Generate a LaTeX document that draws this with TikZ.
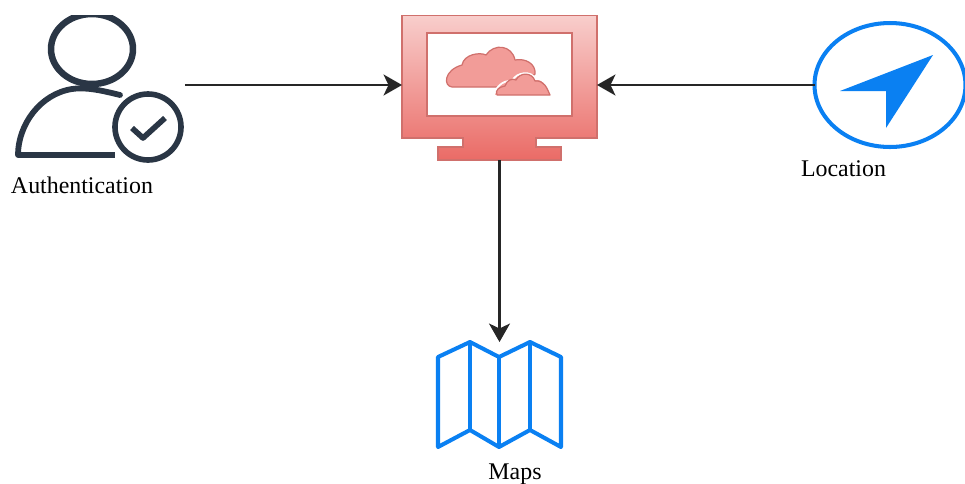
\documentclass[tikz,border=0pt]{standalone}
\usepackage{fontspec}
\setmainfont{Liberation Serif}
\usetikzlibrary{arrows.meta,shapes.geometric}
\definecolor{userdark}{HTML}{2A3645}
\definecolor{iconblue}{HTML}{0A80F2}
\definecolor{monitortop}{HTML}{F8CECC}
\definecolor{monitorbot}{HTML}{EA6B66}
\definecolor{monitorline}{HTML}{D0706C}
\definecolor{cloudfill}{HTML}{F29C98}
\tikzset{
    iconbox/.style={inner sep=0pt,outer sep=0pt},
    flow/.style={draw=black!85,line width=1.3pt,-{Stealth[length=0.37cm,width=0.42cm,inset=0.1cm]}},
    caption/.style={font=\fontsize{13.6}{16}\selectfont,text=black,inner sep=0pt},
    userline/.style={draw=userdark,line join=round},
    mapline/.style={draw=iconblue,line width=2.3pt,line join=round},
    cloudline/.style={fill=cloudfill,draw=monitorline,line width=0.7pt,line join=round}
}
\begin{document}
\begin{tikzpicture}[x=0.02cm,y=-0.02cm]
        \useasboundingbox (0,0) rectangle (965,484);
        \clip (0,15) rectangle (965,484);
        % user
        \node [iconbox,minimum width=3.4cm,minimum height=2.8cm] (user) at (100,85) {};
        \draw [userline,line width=3.7pt] (92,49) ellipse [x radius=41,y radius=35];
        \draw [userline,line width=3.3pt,line cap=round] (120,95) .. controls (100,90) and (85,87) .. (72,89) .. controls (40,94) and (18,125) .. (18,155);
        \draw [userline,line width=3.3pt] (18,155) -- (115,155);
        \draw [userline,line width=3.2pt] (148,127) circle [radius=33];
        \draw [userline,line width=3.2pt] (132,128) -- (143,138) -- (165,118);
        \node [caption] (authlabel) at (82,185) {Authentication};
        % monitor
        \node [iconbox,minimum width=3.9cm,minimum height=2.8cm] (monitor) at (499.5,85) {};
        \shade [top color=monitortop,bottom color=monitorbot,draw=monitorline,line width=0.6pt]
            (402,15) -- (597,15) -- (597,138) -- (536,138) -- (536,147) -- (561,147) -- (561,160)
            -- (438,160) -- (438,147) -- (463,147) -- (463,138) -- (402,138) -- cycle;
        \node [iconbox,fill=white,draw=monitorline,line width=1pt,minimum width=2.9cm,minimum height=1.66cm] (screen) at (499.5,74.5) {};
        \node [iconbox,minimum width=2.46cm,minimum height=0.26cm] (stand) at (499.5,153.5) {};
        \draw [cloudline] (452,87) .. controls (443,86) and (444,70) .. (462,65)
            .. controls (464,54) and (480,52) .. (486,55) .. controls (494,43) and (512,45) .. (515,60)
            .. controls (526,58) and (536,64) .. (535,74) -- (520,87) -- cycle;
        \draw [cloudline,draw=white,line width=1pt] (494,96) .. controls (495,88) and (502,80) .. (512,81)
            .. controls (516,72) and (532,70) .. (535,79) .. controls (545,78) and (549,88) .. (550,96) -- cycle;
        \draw [cloudline] (497,95) .. controls (495,90) and (499,87) .. (505,86)
            .. controls (507,80) and (512,78) .. (516,80) .. controls (520,72) and (532,72) .. (535,81)
            .. controls (544,80) and (547,88) .. (550,95) -- cycle;
        % location
        \node [iconbox,ellipse,draw=iconblue,line width=2.3pt,minimum width=3.02cm,minimum height=2.48cm] (location) at (890,85) {};
        \fill [iconblue] (933,55) -- (840,91) -- (886,91) -- (886,128) -- cycle;
        \node [caption] (loclabel) at (843.5,169) {Location};
        % map
        \node [iconbox,minimum width=2.46cm,minimum height=2.1cm] (map) at (499.5,394.5) {};
        \draw [mapline] (438,357) -- (470,342) -- (499,357) -- (530,342) -- (561,357) -- (561,447)
            -- (530,430) -- (499,447) -- (470,430) -- (438,447) -- cycle;
        \draw [mapline] (470,342) -- (470,430);
        \draw [mapline] (499,357) -- (499,447);
        \draw [mapline] (530,342) -- (530,430);
        \node [caption] (maplabel) at (515,474) {Maps};
        % connectors
        \draw [flow] (user.east) -- (monitor.west);
        \draw [flow] (location.west) -- (monitor.east);
        \draw [flow] (stand.south) -- (map.north);
    \end{tikzpicture}
\end{document}
